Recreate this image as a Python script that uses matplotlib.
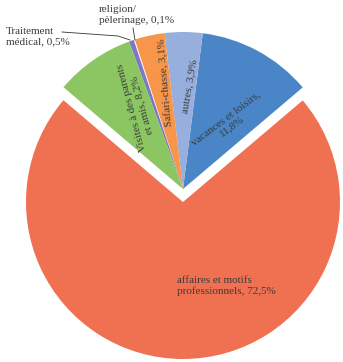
import matplotlib.pyplot as plt

# motifs de voyage (%)
labels = ["vacances et loisirs,\n11,8%", "autres, 3,9%", "Safari-chasse, 3,1%",
          "religion/\npèlerinage, 0,1%", "Traitement\nmédical, 0,5%",
          "Visites à des parents\net amis, 8,2%", "affaires et motifs\nprofessionnels, 72,5%"]
values = [11.8, 3.9, 3.1, 0.1, 0.5, 8.2, 72.5]
colors = ["#4a86c7", "#97afdc", "#f7964a", "#ffffff", "#7c78c2", "#8cc662", "#f07152"]

plt.rcParams['font.family'] = ['Liberation Serif', 'DejaVu Serif']

fig = plt.figure(figsize=(3.43, 3.62), dpi=100)
ax = fig.add_axes([0, 0, 1, 1])

H = 362
cx, cy, r = 183, H - 189, 157
# explode est en unités de données (pas en fraction du rayon)
explode = [0, 0, 0, 0, 0, 0, 13]
small = sum(values[:-1])
start = 90 - small * 3.6 / 2
ax.pie(values, colors=colors, explode=explode, startangle=start,
       center=(cx, cy), radius=r, counterclock=True,
       wedgeprops=dict(linewidth=0))

# repère en pixels (la fonction pie remet les limites)
ax.set_xlim(0, 343)
ax.set_ylim(0, 362)
ax.set_aspect('equal')
ax.axis('off')

tc = "#3a3a3a"
fs = 8
# étiquettes dans les secteurs
ax.text(229, H - 122, labels[0], rotation=37, ha='center', va='center',
        fontsize=fs, color=tc, linespacing=1.1, rotation_mode='anchor')
ax.text(190, H - 86, labels[1], rotation=80, ha='center', va='center',
        fontsize=fs, color=tc, rotation_mode='anchor')
ax.text(166, H - 83, labels[2], rotation=95, ha='center', va='center',
        fontsize=fs, color=tc, rotation_mode='anchor')
ax.text(137, H - 106, labels[5], rotation=105, ha='center', va='center',
        fontsize=fs, color=tc, linespacing=1.1, rotation_mode='anchor')
ax.text(177, H - 286, labels[6], ha='left', va='center',
        fontsize=fs, color=tc, linespacing=1.15)

# étiquettes extérieures avec lignes de rappel
ax.text(99, H - 15, labels[3], ha='left', va='center',
        fontsize=fs, color=tc, linespacing=1.15)
ax.plot([133, 135], [H - 28, H - 40], color='#333333', lw=0.6)
ax.text(6, H - 37, labels[4], ha='left', va='center',
        fontsize=fs, color=tc, linespacing=1.15)
ax.plot([62, 118, 130], [H - 32, H - 36, H - 40], color='#333333', lw=0.6)

fig.savefig("out.png", dpi=100)
